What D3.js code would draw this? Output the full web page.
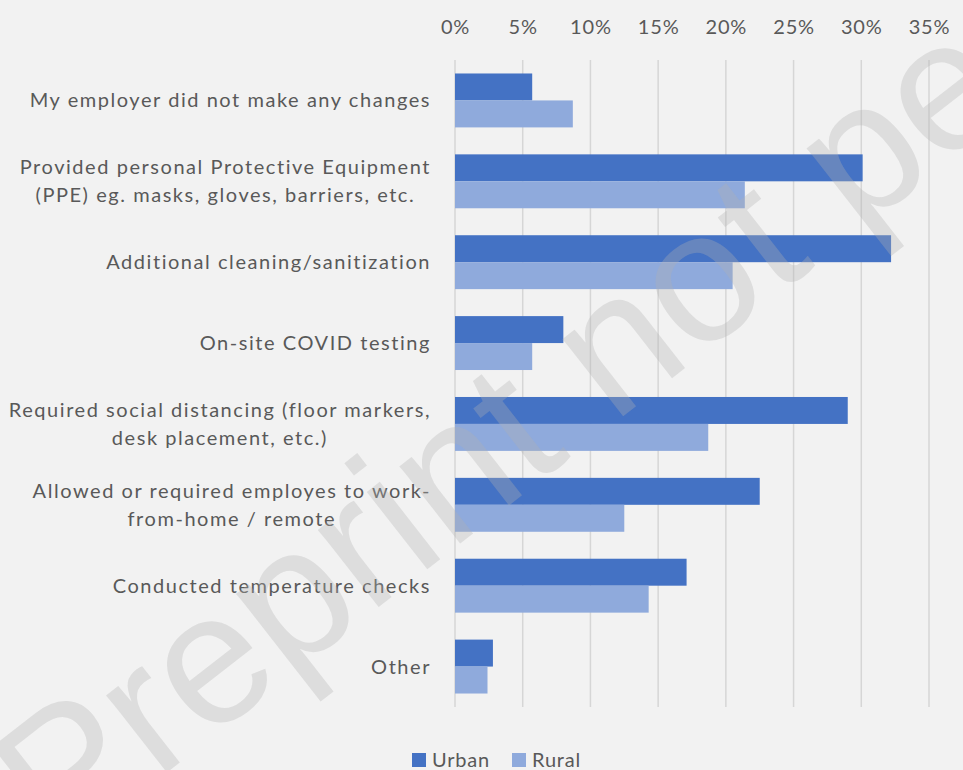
<!DOCTYPE html>
<html>
<head>
<meta charset="utf-8">
<script src="https://cdn.jsdelivr.net/npm/d3@7"></script>
<style>
  html, body { margin: 0; padding: 0; background: #f2f2f2; }
  svg { display: block; }
  text { font-family: Lato, "Open Sans", sans-serif; }
</style>
</head>
<body>
<svg id="chart" width="963" height="770"></svg>
<script>
// Workplace changes made by employers, urban vs rural respondents (percent)
const categories = [
  ["My employer did not make any changes"],
  ["Provided personal Protective Equipment", "(PPE) eg. masks, gloves, barriers, etc."],
  ["Additional cleaning/sanitization"],
  ["On-site COVID testing"],
  ["Required social distancing (floor markers,", "desk placement, etc.)"],
  ["Allowed or required employes to work-", "from-home / remote"],
  ["Conducted temperature checks"],
  ["Other"]
];
const urban = [5.7, 30.1, 32.2, 8.0, 29.0, 22.5, 17.1, 2.8];
const rural = [8.7, 21.4, 20.5, 5.7, 18.7, 12.5, 14.3, 2.4];
const seriesNames = ["Urban", "Rural"];
const seriesColors = ["#4472c4", "#8faadc"];
const xTicks = [0, 5, 10, 15, 20, 25, 30, 35];

const svg = d3.select("#chart");
const W = 963, H = 770;
const plot = { left: 455, right: 929, top: 60, bottom: 707 };

svg.append("rect").attr("width", W).attr("height", H).attr("fill", "#f2f2f2");

const x = d3.scaleLinear().domain([0, 35]).range([plot.left, plot.right]);
const y = d3.scaleBand()
  .domain(d3.range(categories.length))
  .range([plot.top, plot.bottom])
  .paddingInner(1 / 3)
  .paddingOuter(1 / 6);
const ySub = d3.scaleBand().domain(seriesNames).range([0, y.bandwidth()]);

// vertical gridlines
svg.append("g")
  .selectAll("line")
  .data(xTicks)
  .join("line")
  .attr("x1", d => x(d)).attr("x2", d => x(d))
  .attr("y1", plot.top).attr("y2", plot.bottom)
  .attr("stroke", "#d6d6d6")
  .attr("stroke-width", 1.5);

// top axis labels
const axis = d3.axisTop(x).tickValues(xTicks).tickFormat(d => d + "%").tickSize(0).tickPadding(0);
const gAxis = svg.append("g").attr("transform", "translate(0,34)").call(axis);
gAxis.select(".domain").remove();
gAxis.selectAll("text")
  .attr("fill", "#595959")
  .attr("font-size", 20)
  .attr("letter-spacing", 0.8)
  .attr("dy", 0)
  .style("font-family", "Lato, 'Open Sans', sans-serif");

// bars
const rows = categories.map((c, i) => ({ i, values: [urban[i], rural[i]] }));
const gRows = svg.append("g").selectAll("g")
  .data(rows)
  .join("g")
  .attr("transform", d => `translate(0,${y(d.i)})`);
gRows.selectAll("rect")
  .data(d => d.values.map((v, k) => ({ v, k })))
  .join("rect")
  .attr("x", x(0))
  .attr("y", d => ySub(seriesNames[d.k]))
  .attr("width", d => x(d.v) - x(0))
  .attr("height", ySub.bandwidth())
  .attr("fill", d => seriesColors[d.k]);

// category labels
const lineH = 28;
const gLab = svg.append("g");
categories.forEach((lines, i) => {
  const cy = y(i) + y.bandwidth() / 2;
  const first = cy - (lines.length - 1) * lineH / 2 + 7;
  const t = gLab.append("text")
    .attr("text-anchor", "middle")
    .attr("fill", "#595959")
    .attr("font-size", 20)
    .attr("letter-spacing", 1.55);
  lines.forEach((ln, j) => {
    t.append("tspan").attr("y", first + j * lineH).text(ln);
  });
  // right-align the block while centering its lines against each other
  const widths = [];
  t.selectAll("tspan").each(function () { widths.push(this.getComputedTextLength()); });
  const maxW = d3.max(widths);
  t.selectAll("tspan").attr("x", 431 - maxW / 2);
});

// legend
const legend = svg.append("g");
const legendX = [412, 512];
seriesNames.forEach((name, k) => {
  legend.append("rect")
    .attr("x", legendX[k]).attr("y", 753)
    .attr("width", 14).attr("height", 14)
    .attr("fill", seriesColors[k]);
  legend.append("text")
    .attr("x", legendX[k] + 20).attr("y", 767)
    .attr("fill", "#595959")
    .attr("font-size", 20)
    .attr("letter-spacing", 0.8)
    .text(name);
});

// diagonal watermark
svg.append("text")
  .attr("transform", "translate(59,857) rotate(-38)")
  .attr("fill", "#b0b0b0")
  .attr("fill-opacity", 0.32)
  .attr("font-size", 186)
  .style("font-family", "'Liberation Sans', Arial, sans-serif")
  .text("Preprint not peer reviewed");
</script>
</body>
</html>
